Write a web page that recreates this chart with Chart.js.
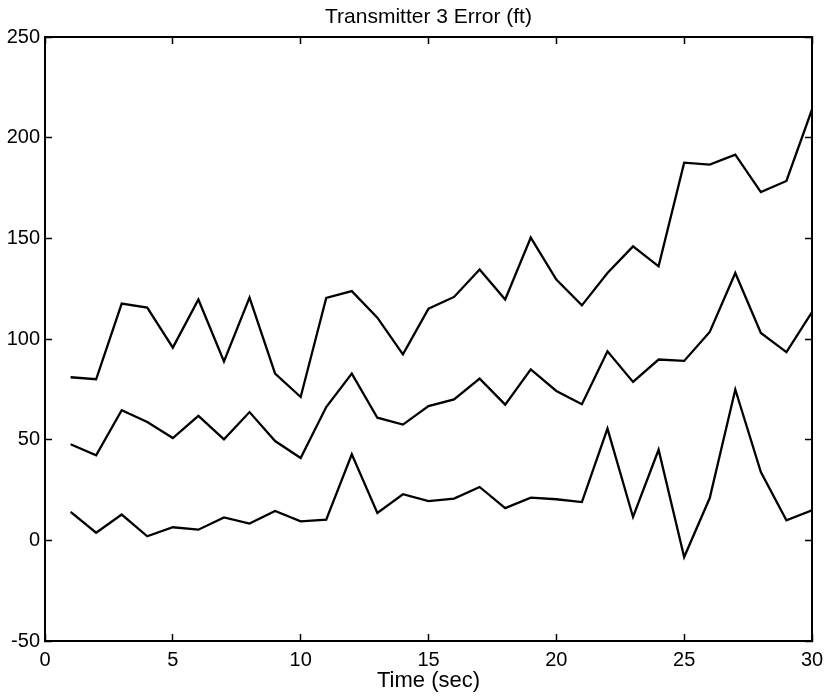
<!DOCTYPE html>
<html>
<head>
<meta charset="utf-8">
<script src="https://cdn.jsdelivr.net/npm/chart.js@4.4.1/dist/chart.umd.min.js"></script>
<style>
  body { margin: 0; background: #fff; }
</style>
</head>
<body>
<canvas id="errChart" width="826" height="699"></canvas>
<script>
// time (sec) and the three error traces
const times = [1, 2, 3, 4, 5, 6, 7, 8, 9, 10, 11, 12, 13, 14, 15, 16, 17, 18, 19, 20, 21, 22, 23, 24, 25, 26, 27, 28, 29, 30]
const upper = [81, 80, 117.6, 115.6, 95.7, 119.6, 88.9, 120.6, 82.8, 71.2, 120.4, 123.8, 110.6, 92.4, 115.1, 120.9, 134.5, 119.6, 150.4, 129.5, 116.7, 132.8, 146, 136.1, 187.6, 186.6, 191.6, 173, 178.5, 214]
const middle = [47.7, 42.2, 64.6, 58.8, 50.8, 61.8, 50.2, 63.7, 49.3, 40.9, 66.2, 82.8, 60.9, 57.5, 66.7, 70, 80.3, 67.4, 84.9, 74.2, 67.6, 93.9, 78.7, 89.8, 89.1, 103.5, 132.8, 103, 93.5, 113.4]
const lower = [14.1, 3.8, 12.8, 2, 6.5, 5.3, 11.4, 8.3, 14.6, 9.4, 10.3, 42.7, 13.6, 22.9, 19.5, 20.7, 26.5, 16, 21.2, 20.4, 19, 55.5, 11.6, 45, -8.3, 21, 74.9, 33.9, 9.9, 14.9]

const xTicks = [0, 5, 10, 15, 20, 25, 30]
const yTicks = [-50, 0, 50, 100, 150, 200, 250]

const fontFamily = "'Liberation Sans', Arial, sans-serif"

const toPoints = (vals) => vals.map((v, i) => ({ x: times[i], y: v }))

const lineSet = (vals) => ({
    data: toPoints(vals),
    borderColor: '#000',
    borderWidth: 2.3,
    borderJoinStyle: 'miter',
    pointRadius: 0,
    tension: 0,
    fill: false
})

// ticks point inward like the original, so tickLength is negative
const frameAxis = (position, min, max, showLabels, fit) => ({
    type: 'linear',
    position: position,
    min: min,
    max: max,
    afterBuildTicks: (scale) => {
        const list = scale.isHorizontal() ? xTicks : yTicks
        scale.ticks = list.map(v => ({ value: v }))
    },
    grid: {
        display: true,
        drawOnChartArea: false,
        drawTicks: true,
        tickLength: -7,
        tickWidth: 1.5,
        color: '#000'
    },
    border: { display: true, color: '#000', width: 2 },
    ticks: {
        display: showLabels,
        color: '#000',
        padding: 14,
        font: { family: fontFamily, size: 20 }
    },
    afterFit: fit
})

const xAxis = frameAxis('bottom', 0, 30, true, s => {
    s.height = 58
    // let the end labels hang over the edges instead of squeezing the plot
    s.paddingLeft = 0
    s.paddingRight = 0
})
xAxis.title = {
    display: true,
    text: 'Time (sec)',
    color: '#000',
    font: { family: fontFamily, size: 22 },
    padding: { top: 0, bottom: 5 }
}
const yAxis = frameAxis('left', -50, 250, true, s => { s.width = 45 })
yAxis.ticks.padding = 12

// the chart title sits on the top axis so it is centred over the plot box
const topAxis = frameAxis('top', 0, 30, false, s => { s.height = 37 })
topAxis.title = {
    display: true,
    text: 'Transmitter 3 Error (ft)',
    color: '#000',
    font: { family: fontFamily, size: 21 },
    padding: { top: 5, bottom: 0 }
}

const config = {
    type: 'line',
    data: {
        datasets: [lineSet(upper), lineSet(middle), lineSet(lower)]
    },
    options: {
        responsive: false,
        animation: false,
        layout: { padding: { left: 0, right: 14, top: 0, bottom: 0 } },
        plugins: {
            legend: { display: false },
            tooltip: { enabled: false },
            title: { display: false }
        },
        scales: {
            x: xAxis,
            y: yAxis,
            x2: topAxis,
            y2: frameAxis('right', -50, 250, false, s => { s.width = 0 })
        }
    }
}

const errChart = new Chart(document.getElementById('errChart').getContext('2d'), config)
</script>
</body>
</html>
